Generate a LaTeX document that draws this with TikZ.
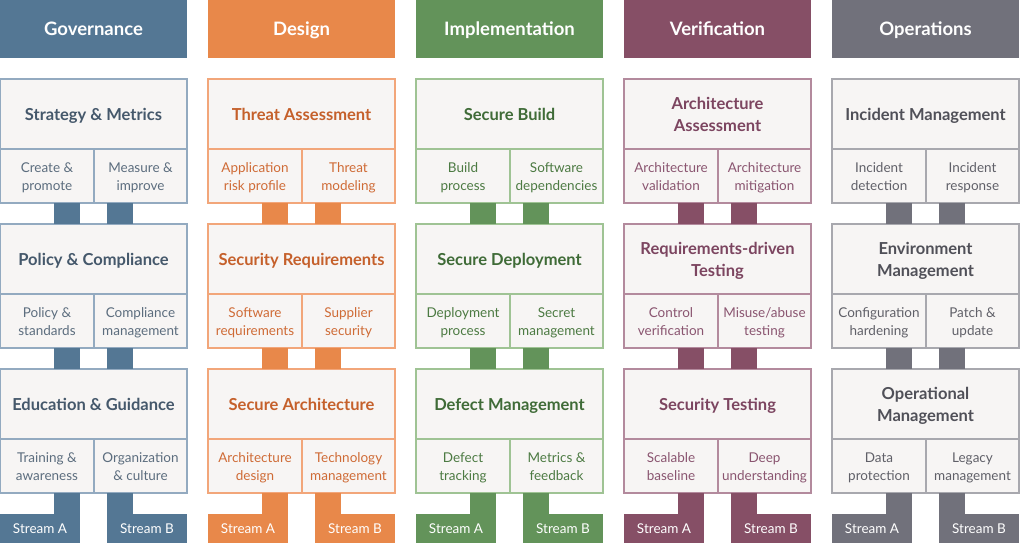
\documentclass[tikz,border=0pt]{standalone}
\usepackage{fontspec}
\setmainfont{Lato}
\definecolor{boxfill}{HTML}{F7F5F4}
% Governance
\definecolor{gvM}{HTML}{547794}\definecolor{gvL}{HTML}{93AAC0}\definecolor{gvT}{HTML}{45586B}\definecolor{gvS}{HTML}{5C6D7E}
% Design
\definecolor{dsM}{HTML}{E8884A}\definecolor{dsL}{HTML}{F2A67A}\definecolor{dsT}{HTML}{C5602B}\definecolor{dsS}{HTML}{CF6B36}
% Implementation
\definecolor{imM}{HTML}{63935A}\definecolor{imL}{HTML}{9FC394}\definecolor{imT}{HTML}{3F6B37}\definecolor{imS}{HTML}{4C7A42}
% Verification
\definecolor{vfM}{HTML}{864F66}\definecolor{vfL}{HTML}{B38A9D}\definecolor{vfT}{HTML}{7C4560}\definecolor{vfS}{HTML}{8A5570}
% Operations
\definecolor{opM}{HTML}{71717B}\definecolor{opL}{HTML}{A8A8AE}\definecolor{opT}{HTML}{505058}\definecolor{opS}{HTML}{606068}
% lines of a label, set as one block and lowered by #1 without changing its size
\newcommand\ntext[2]{\raisebox{#1}[\height][\depth]{\begin{tabular}{@{}c@{}}#2\end{tabular}}}
\tikzset{
  hdr/.style={fill=#1M, inner sep=0pt, outer sep=0pt, anchor=north west, minimum width=187pt, minimum height=58pt, text=white, font=\fontsize{18.5}{23}\bfseries\selectfont},
  ttl/.style={draw=#1L, line width=1.2pt, fill=boxfill, inner sep=0pt, outer sep=0pt, anchor=north west, minimum width=187pt, minimum height=70pt, text=#1T, font=\fontsize{16.5}{22}\bfseries\selectfont},
  sub/.style={draw=#1L, line width=1.2pt, fill=boxfill, inner sep=0pt, outer sep=0pt, anchor=north west, minimum width=94pt, minimum height=54pt, text=#1S, font=\fontsize{13.5}{18}\selectfont},
  strm/.style={fill=#1M, inner sep=0pt, outer sep=0pt, anchor=north west, minimum width=80pt, minimum height=29pt, text=white, font=\fontsize{13.5}{16}\selectfont},
  lnk/.style={fill=#1M},
}
\newcommand\phead[4]{% name, colour, x, text
  \node[hdr=#2] (#1) at (#3,0) {\ntext{-2pt}{#4}};
}
\newcommand\pblock[7]{%
  \node[ttl=#2] (#1t) at (#3,#4) {\ntext{-2pt}{#5}};
  \node[sub=#2] (#1a) at (#3,#4+70) {\ntext{-1.5pt}{#6}};
  \node[sub=#2, minimum width=93pt] (#1b) at (#3+94,#4+70) {\ntext{-1.5pt}{#7}};
}
\newcommand\plinks[3]{%
  \fill[lnk=#3] ([xshift=7pt]#1a.south) rectangle ([xshift=-13.5pt]#2t.north);
  \fill[lnk=#3] ([xshift=-33.5pt]#1b.south) rectangle ([xshift=39.5pt]#2t.north);
}
\newcommand\pstreams[4]{% #1 prefix name, #2 colour, #3 x, #4 last block
  \node[strm=#2] (#1sa) at (#3,514) {\ntext{-2pt}{Stream A}};
  \node[strm=#2] (#1sb) at (#3+107,514) {\ntext{-2pt}{Stream B}};
  \fill[lnk=#2] ([xshift=7pt]#4a.south) rectangle (#1sa.north east);
  \fill[lnk=#2] ([xshift=-33.5pt]#4b.south) rectangle ([xshift=26pt]#1sb.north west);
}
\begin{document}
\begin{tikzpicture}[x=1pt,y=-1pt]
\useasboundingbox (0,0) rectangle (1024,549);
% Governance
\phead{gh}{gv}{0}{Governance}
\pblock{g1}{gv}{0}{79}{Strategy \& Metrics}{Create \&\\promote}{Measure \&\\improve}
\pblock{g2}{gv}{0}{224}{Policy \& Compliance}{Policy \&\\standards}{Compliance\\management}
\pblock{g3}{gv}{0}{369}{Education \& Guidance}{Training \&\\awareness}{Organization\\\& culture}
\plinks{g1}{g2}{gv}\plinks{g2}{g3}{gv}
\pstreams{g}{gv}{0}{g3}
% Design
\phead{dh}{ds}{208}{Design}
\pblock{d1}{ds}{208}{79}{Threat Assessment}{Application\\risk profile}{Threat\\modeling}
\pblock{d2}{ds}{208}{224}{Security Requirements}{Software\\requirements}{Supplier\\security}
\pblock{d3}{ds}{208}{369}{Secure Architecture}{Architecture\\design}{Technology\\management}
\plinks{d1}{d2}{ds}\plinks{d2}{d3}{ds}
\pstreams{d}{ds}{208}{d3}
% Implementation
\phead{ih}{im}{416}{Implementation}
\pblock{i1}{im}{416}{79}{Secure Build}{Build\\process}{Software\\dependencies}
\pblock{i2}{im}{416}{224}{Secure Deployment}{Deployment\\process}{Secret\\management}
\pblock{i3}{im}{416}{369}{Defect Management}{Defect\\tracking}{Metrics \&\\feedback}
\plinks{i1}{i2}{im}\plinks{i2}{i3}{im}
\pstreams{i}{im}{416}{i3}
% Verification
\phead{vh}{vf}{624}{Verification}
\pblock{v1}{vf}{624}{79}{Architecture\\Assessment}{Architecture\\validation}{Architecture\\mitigation}
\pblock{v2}{vf}{624}{224}{Requirements-driven\\Testing}{Control\\verification}{Misuse/abuse\\testing}
\pblock{v3}{vf}{624}{369}{Security Testing}{Scalable\\baseline}{Deep\\understanding}
\plinks{v1}{v2}{vf}\plinks{v2}{v3}{vf}
\pstreams{v}{vf}{624}{v3}
% Operations
\phead{oh}{op}{832}{Operations}
\pblock{o1}{op}{832}{79}{Incident Management}{Incident\\detection}{Incident\\response}
\pblock{o2}{op}{832}{224}{Environment\\Management}{Configuration\\hardening}{Patch \&\\update}
\pblock{o3}{op}{832}{369}{Operational\\Management}{Data\\protection}{Legacy\\management}
\plinks{o1}{o2}{op}\plinks{o2}{o3}{op}
\pstreams{o}{op}{832}{o3}
\end{tikzpicture}
\end{document}
